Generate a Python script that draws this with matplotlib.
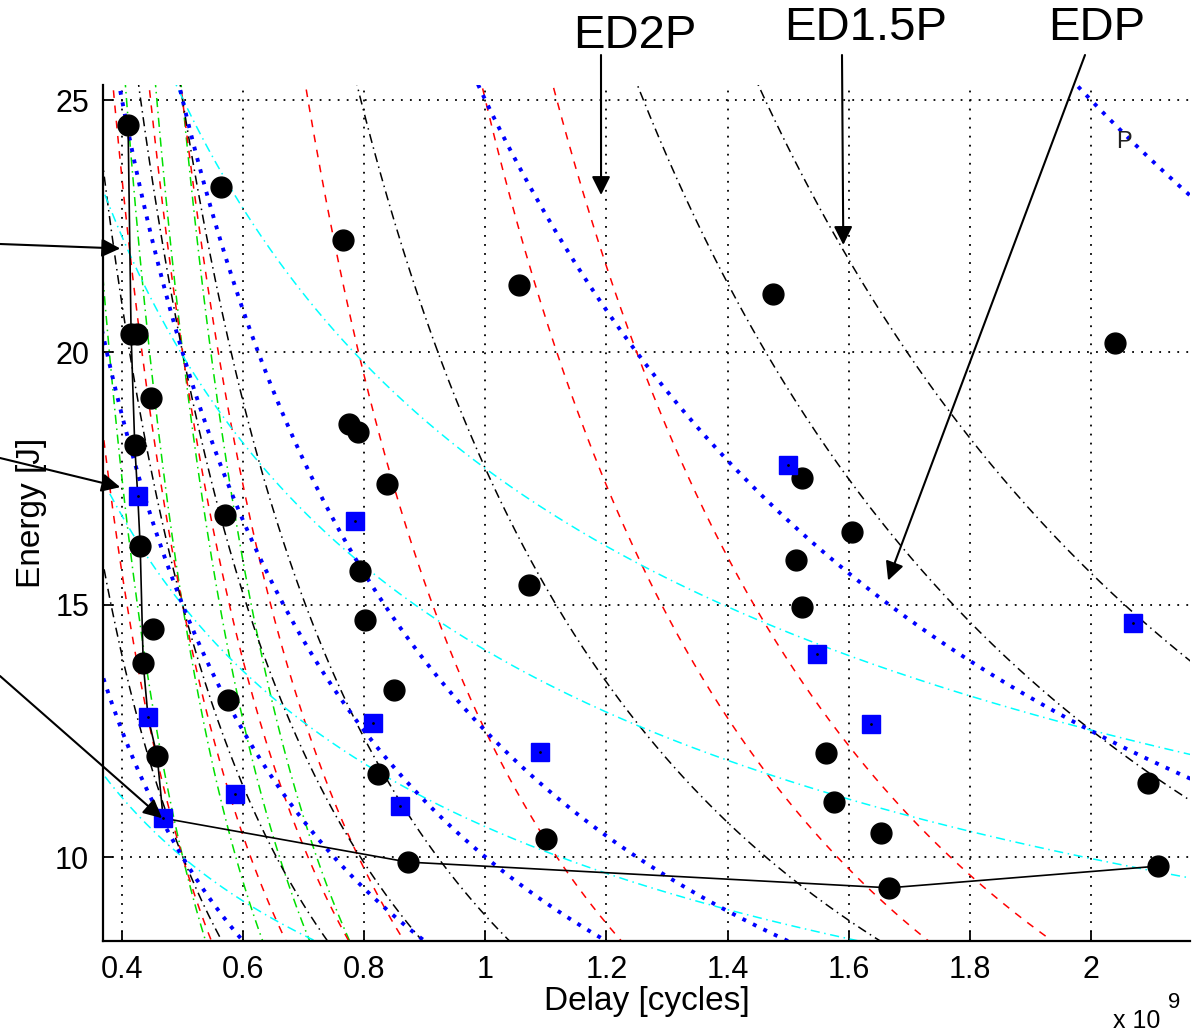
import numpy as np
import matplotlib.pyplot as plt
from matplotlib.ticker import FuncFormatter

plt.rcParams['font.family'] = ['Liberation Sans', 'DejaVu Sans']

# 测量点 (delay in 1e9 cycles, energy in J)
dot_delay = [0.410, 0.563, 0.765, 1.056, 1.475, 2.040, 0.415, 0.425, 0.448, 0.421,
             0.775, 0.790, 0.838, 1.523, 1.605, 0.570, 0.430, 0.793, 1.072, 1.513,
             1.523, 0.801, 0.451, 0.435, 0.575, 0.849, 0.458, 1.562, 0.823, 2.094,
             1.575, 1.100, 1.653, 0.872, 1.667, 2.111]
dot_energy = [24.50, 23.27, 22.22, 21.33, 21.15, 20.18, 20.36, 20.36, 19.09, 18.16,
              18.59, 18.42, 17.39, 17.51, 16.44, 16.78, 16.16, 15.67, 15.39, 15.88,
              14.95, 14.70, 14.52, 13.84, 13.11, 13.31, 12.00, 12.06, 11.64, 11.47,
              11.09, 10.36, 10.48, 9.90, 9.39, 9.82]

sq_delay = [0.426, 0.785, 1.500, 2.070, 1.548, 0.443, 0.814, 1.637, 1.090, 0.587, 0.859, 0.468]
sq_energy = [17.15, 16.66, 17.77, 14.64, 14.02, 12.77, 12.66, 12.64, 12.08, 11.25, 11.01, 10.77]

# Pareto 前沿
front_delay = [0.410, 0.415, 0.421, 0.426, 0.430, 0.435, 0.443, 0.458, 0.468, 0.872, 1.667, 2.111]
front_energy = [24.50, 20.36, 18.16, 17.15, 16.16, 13.84, 12.77, 12.00, 10.77, 9.90, 9.39, 9.82]

# 等值线 E * D^n = C
cyan_n, cyan_levels = 0.5, [7.07, 10.6, 14.1, 17.7]
blue_n, blue_levels = 1.0, [5.0, 7.5, 10.0, 12.5, 25.0, 50.0]
black_n, black_levels = 1.5, [3.54, 5.3, 7.07, 8.84, 17.7, 35.4, 44.2]
red_n, red_levels = 2.0, [2.5, 3.75, 5.0, 6.25, 12.5, 25.0, 31.25]
green_n, green_levels = 2.5, [1.77, 2.65, 3.54, 4.42]

W, H = 1198, 1036
fig = plt.figure(figsize=(W / 100, H / 100), dpi=100)
ax = fig.add_axes([103 / W, 1 - 941 / H, (1190 - 103) / W, (941 - 85) / H])

d = np.linspace(0.3, 2.3, 800)
dashdot = (0, (6, 3, 1, 3))

def iso(levels, n, **kw):
    for c in levels:
        ax.plot(d, c / d ** n, **kw)

iso(green_levels, green_n, color='#00e000', ls=dashdot, lw=1.1)
iso(red_levels, red_n, color='red', ls=(0, (5, 5)), lw=1.1)
iso(black_levels, black_n, color='black', ls=dashdot, lw=1.1)
iso(cyan_levels, cyan_n, color='cyan', ls=dashdot, lw=1.1)
iso(blue_levels, blue_n, color='blue', ls=(0, (1, 2)), lw=2.8)

ax.plot(front_delay, front_energy, color='black', lw=1.2)
ax.plot(dot_delay, dot_energy, 'o', color='black', ms=15)
ax.plot(sq_delay, sq_energy, 's', color='blue', ms=13)
ax.plot(sq_delay, sq_energy, '.', color='black', ms=2)

ax.set_xlim(0.3686, 2.1635)
ax.set_ylim(8.336, 25.3)
ax.set_xticks([0.4, 0.6, 0.8, 1.0, 1.2, 1.4, 1.6, 1.8, 2.0])
ax.set_yticks([10, 15, 20, 25])
ax.xaxis.set_major_formatter(FuncFormatter(lambda v, p: '%g' % v))
ax.grid(True, color='black', ls=(0, (1, 4)), lw=1.3)
ax.tick_params(direction='in', length=7, width=1.3, labelsize=22, pad=10)
for s in ['top', 'right']:
    ax.spines[s].set_visible(False)
for s in ['left', 'bottom']:
    ax.spines[s].set_linewidth(1.6)

ax.set_xlabel('Delay [cycles]', fontsize=24, labelpad=1)
ax.set_ylabel('Energy [J]', fontsize=24, labelpad=6)
fig.text(1113 / W, 1 - 1021 / H, 'x 10', fontsize=18, va='center', ha='left')
fig.text(1168 / W, 1 - 1003 / H, '9', fontsize=16, va='center', ha='left')

ax.text(2.055, 24.17, 'P', fontsize=17, color='#222222', ha='center', va='center')

# 标注
fig.text(635 / W, 1 - 36 / H, 'ED2P', fontsize=34, ha='center', va='center')
fig.text(866 / W, 1 - 28 / H, 'ED1.5P', fontsize=34, ha='center', va='center')
fig.text(1097 / W, 1 - 28 / H, 'EDP', fontsize=34, ha='center', va='center')

arrows = [((1.191, 23.12), (601, 55)),
          ((1.591, 22.13), (842, 55)),
          ((1.665, 15.48), (1085, 55)),
          ((0.397, 22.06), (0, 244)),
          ((0.397, 17.33), (0, 458)),
          ((0.466, 10.77), (0, 676))]
for tip, tail in arrows:
    ax.annotate('', xy=tip, xytext=(tail[0], H - tail[1]), textcoords='figure pixels',
                annotation_clip=False,
                arrowprops=dict(arrowstyle='-|>', color='black', lw=1.5,
                                mutation_scale=28, shrinkA=0, shrinkB=0))

fig.savefig('out.png', dpi=100)
